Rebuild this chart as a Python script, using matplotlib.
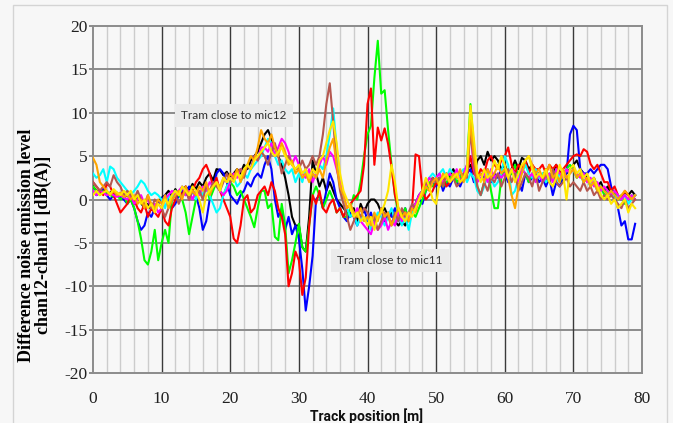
import numpy as np
import matplotlib
matplotlib.use("Agg")
import matplotlib.pyplot as plt
from matplotlib.patches import Rectangle

plt.rcParams["axes.unicode_minus"] = False

# ---------------- data ----------------
track_pos = np.arange(0, 79.5, 0.5)  # sample positions [m]

black = [1.5, 1.0, 0.8, 1.2, 0.5, 0.8, 1.0, 0.6, 0.4, 0.2,
         0.5, 0.0, -0.5, 0.3, -0.4, -1.0, -0.5, -1.2, -0.8, -0.3,
         0.2, 0.5, 1.0, 0.4, 1.2, 0.5, 0.8, 1.5, 1.0, 1.8,
         1.2, 2.0, 1.5, 2.5, 3.0, 2.2, 3.5, 3.4, 2.8, 3.2,
         2.5, 3.0, 3.5, 3.0, 4.0, 3.5, 4.5, 5.0, 5.5, 6.5,
         7.5, 8.0, 7.0, 6.0, 5.0, 4.0, 2.5, 0.5, -2.0, -3.0,
         -3.0, -5.5, -6.0, -2.0, 4.5, 3.0, 1.5, 2.5, 1.0, 2.0,
         1.0, 0.0, -0.5, -1.0, -1.5, -2.0, -1.0, -2.5, -0.5, -1.5,
         -0.5, 0.0, 0.0, -0.5, -1.5, -1.0, -2.0, -1.5, -2.5, -3.0,
         -2.5, -3.0, -2.0, -1.5, -0.5, 0.5, 1.0, 2.0, 1.5, 2.5,
         2.0, 2.5, 2.0, 3.0, 2.5, 3.5, 2.5, 3.0, 2.5, 3.5,
         4.0, 3.0, 4.5, 5.0, 4.0, 5.5, 4.5, 5.0, 4.5, 3.5,
         4.0, 3.0, 3.5, 4.5, 3.5, 4.8, 4.5, 3.5, 4.0, 3.0,
         3.0, 2.5, 3.5, 2.0, 3.0, 4.0, 3.0, 2.5, 3.0, 3.5,
         4.0, 4.5, 3.5, 3.0, 2.5, 2.0, 2.5, 1.5, 2.0, 1.0,
         1.5, 0.5, 1.0, 0.5, 0.0, 0.8, 0.5, 1.0, 0.5]

red = [2.0, 1.5, 1.0, 0.5, 1.8, 1.5, 0.5, -0.5, -1.5, -1.0,
       -0.5, 0.5, 0.0, -1.0, -1.5, -0.5, -2.0, -1.0, -1.5, -2.0,
       -1.0, -2.5, -3.0, -1.0, 0.0, 1.0, 0.5, 1.5, 0.0, 1.0,
       2.0, 2.5, 3.5, 4.0, 3.0, 1.5, 2.5, 1.0, 0.0, -1.0,
       -2.0, -4.5, -5.0, -3.0, 0.0, 0.5, -1.5, -1.0, 0.5, 1.0,
       1.5, 0.5, 2.0, 1.0, -1.0, -2.0, -4.0, -10.0, -8.5, -6.0,
       -7.0, -11.0, -9.0, -3.0, 0.5, -0.5, 1.0, -1.0, -1.5, -0.5,
       0.0, -1.5, -1.0, -2.0, -1.0, -0.5, 0.0, 0.5, 1.0, 4.0,
       11.0, 12.8, 4.0, 8.3, 6.8, 8.2, 6.4, 3.7, 0.5, -1.0,
       -2.0, -1.5, -2.5, -1.0, 5.2, 5.0, 1.0, 0.0, 0.5, 1.0,
       2.0, 1.5, 2.5, 1.5, 2.0, 2.5, 3.0, 2.0, 2.5, 3.0,
       5.0, 3.0, 2.5, 3.5, 3.0, 4.5, 5.0, 4.0, 3.5, 4.5,
       5.0, 6.0, 4.0, 3.0, 4.0, 3.5, 4.5, 3.0, 4.0, 3.5,
       3.5, 4.0, 3.0, 4.0, 3.5, 4.0, 3.0, 3.5, 4.0, 4.5,
       5.0, 5.2, 5.0, 5.8, 5.5, 4.1, 3.5, 4.0, 3.0, 2.0,
       2.0, 1.0, 1.5, 0.5, 0.0, 1.0, 0.5, 0.0, 0.5]

blue = [1.0, 0.5, 0.8, 1.2, 0.5, 0.0, 0.5, 0.8, 0.3, 0.0,
        -0.5, 0.0, -1.0, -2.5, -3.5, -3.0, -1.5, -2.0, -1.0, -0.5,
        0.0, 0.5, 0.0, -1.0, -0.5, 0.5, 1.0, 0.5, 1.5, 1.0,
        0.5, -1.0, -3.5, -2.5, 0.0, 1.5, 3.0, 3.5, 3.0, 2.0,
        0.5, 0.0, -0.5, 0.5, 1.0, 2.0, 1.5, 2.5, 3.0, 2.5,
        4.0, 5.0, 3.5, 0.0, -2.0, -1.0, -3.5, -2.0, -4.0, -3.0,
        -4.5, -8.0, -12.8, -10.0, -6.5, 0.0, 0.5, -1.0, 1.0, 3.0,
        2.0, 0.0, -1.0, -2.0, -2.5, -1.5, -2.0, -3.0, -2.0, -1.0,
        -2.5, -1.5, -3.0, -2.0, -1.0, -2.5, -1.5, -2.0, -1.0, -2.5,
        -2.0, -1.0, -2.5, -1.5, -1.0, 0.0, -0.5, 1.0, 1.5, 2.0,
        1.5, 2.5, 1.0, 2.0, 1.5, 2.5, 2.0, 1.5, 2.5, 3.0,
        3.5, 2.0, 2.5, 3.0, 2.5, 3.5, 2.0, 3.0, 2.5, 3.5,
        3.0, 2.0, 3.5, 2.5, 2.0, 1.0, 3.0, 2.0, 2.5, 3.0,
        2.0, 2.5, 1.5, 2.5, 0.5, 2.0, 1.5, 2.5, 3.0, 7.5,
        8.5, 8.0, 3.5, 3.0, 3.0, 3.5, 3.0, 3.5, 4.0, 4.0,
        3.5, 1.5, 0.5, -1.0, -3.0, -2.5, -4.6, -4.6, -2.8]

green = [1.5, 1.0, 0.5, 1.0, 0.8, 0.5, 0.3, 0.5, 0.0, 0.5,
         -0.5, 0.0, -1.0, -2.5, -4.5, -7.0, -7.5, -6.0, -3.5, -7.0,
         -5.0, -3.5, -5.0, 0.0, 1.0, 0.5, 0.0, -1.5, -4.0, -2.0,
         0.0, 1.0, 0.5, 1.5, 0.0, 1.0, 2.0, 1.0, 0.5, 1.5,
         2.0, 1.5, 0.5, 1.0, 0.0, -1.0, -2.0, -3.2, -1.0, 1.0,
         1.0, -1.0, -0.5, -4.3, -4.7, -0.5, -3.0, -8.5, -7.0, -5.0,
         -2.8, -5.5, -6.0, -3.0, 0.5, 1.5, 0.5, -1.0, 0.0, 1.0,
         0.0, -1.5, -1.0, -2.0, -2.0, -1.0, 0.5, 0.0, 2.0, 5.0,
         7.5, 8.5, 14.0, 18.3, 12.2, 12.6, 8.0, 4.0, 0.5, -1.5,
         -2.0, -1.0, -2.5, -1.5, -2.0, -1.0, 0.0, 1.0, 2.0, 1.5,
         2.0, 2.5, 1.5, 2.0, 2.5, 3.0, 2.0, 2.5, 3.0, 4.0,
         11.0, 6.0, 1.5, 0.5, 2.0, 3.0, 1.0, -1.0, -1.0, 2.5,
         3.5, 2.5, 3.0, 4.0, 2.5, 3.5, 3.0, 2.0, 3.0, 3.5,
         2.5, 3.0, 2.0, 3.0, 2.5, 3.5, 2.0, 3.0, 3.5, 4.0,
         3.5, 2.5, 3.0, 2.0, 2.5, 1.5, 2.0, 1.0, 1.5, 0.5,
         1.0, 0.5, 1.0, 0.0, 0.5, -0.5, 0.0, 0.5, 0.0]

cyan = [3.0, 2.5, 2.8, 3.5, 2.0, 3.8, 3.5, 2.5, 2.0, 1.5,
        1.0, 0.5, 1.0, 1.5, 2.2, 1.8, 1.0, 0.5, 0.8, 0.5,
        0.0, -1.0, 0.5, 0.0, 1.0, 0.5, 1.5, 1.0, 0.5, 1.0,
        0.0, 1.0, 0.5, 1.5, 0.5, -0.5, -1.5, -1.0, 0.5, 1.5,
        2.0, 2.5, 1.5, 2.0, 3.0, 2.5, 3.5, 4.0, 4.5, 5.0,
        6.0, 7.0, 6.5, 5.0, 4.0, 4.5, 3.5, 3.0, 3.5, 2.0,
        3.0, 2.0, 3.5, 2.5, 3.0, 2.5, 4.0, 3.5, 5.0, 7.5,
        10.5, 6.0, 2.0, 0.0, -1.0, -2.0, -1.5, -3.0, -2.0, -2.5,
        -2.0, -3.5, -2.5, -1.5, -2.0, -3.0, -2.0, -1.0, -2.5, -1.5,
        -3.0, -2.0, -3.5, -1.5, -1.0, 0.0, 1.0, 2.0, 2.5, 3.0,
        2.5, 3.0, 3.5, 2.5, 3.5, 3.0, 2.5, 3.0, 3.5, 2.0,
        3.0, 2.5, 1.0, 0.5, 1.5, 3.0, 2.5, 1.5, 2.0, 3.0,
        5.0, 4.0, 0.5, 1.0, 2.5, 3.0, 4.0, 3.0, 2.5, 3.5,
        2.5, 3.0, 2.0, 2.5, 3.0, 2.0, 3.0, 2.5, 3.5, 3.0,
        3.5, 2.5, 3.0, 2.0, 2.5, 1.5, 2.0, 1.0, 1.5, 1.0,
        0.5, 1.0, 0.0, 0.5, 0.0, 0.5, -0.5, 0.0, 0.5]

magenta = [1.0, 0.5, 1.0, 0.8, 0.5, 0.7, 0.5, 0.3, 0.5, 0.2,
           0.0, 0.5, -0.5, 0.0, 0.5, -0.5, 0.0, -1.0, -0.5, -1.5,
           -1.0, 0.0, 0.5, 1.0, 0.5, 1.0, 1.5, 0.5, 1.0, 0.0,
           1.0, 0.5, 1.5, 1.0, 2.0, 1.5, 2.0, 1.0, 0.5, 1.0,
           2.0, 3.0, 2.5, 3.5, 3.0, 4.0, 3.5, 5.0, 4.5, 6.0,
           6.0, 5.5, 6.5, 5.0, 6.0, 7.0, 6.5, 5.5, 4.0, 5.0,
           4.0, 3.0, 2.5, 3.5, 2.0, 3.0, 4.0, 5.0, 4.0, 5.5,
           5.0, 3.5, 2.0, 0.5, -1.0, -0.5, -2.0, -1.0, -2.5, -3.0,
           -3.5, -4.0, -2.5, -3.5, -3.0, -2.0, -3.5, -2.5, -3.0, -1.5,
           -2.5, -1.5, -2.0, -1.0, -0.5, 0.5, 1.0, 1.5, 2.5, 2.0,
           2.5, 3.0, 2.0, 2.5, 3.0, 2.5, 3.5, 2.0, 3.0, 4.0,
           8.0, 3.5, 2.0, 2.5, 3.0, 2.0, 3.5, 2.5, 3.0, 2.5,
           3.0, 2.5, 3.5, 3.0, 2.0, 3.5, 3.0, 2.5, 3.0, 2.0,
           3.0, 2.0, 2.5, 3.0, 2.0, 3.5, 3.0, 2.5, 3.5, 3.0,
           3.5, 3.0, 2.5, 3.0, 2.0, 2.5, 1.5, 2.0, 1.0, 1.5,
           1.0, 0.5, 1.0, 0.5, 0.0, 0.5, 0.0, 0.5, 0.0]

brown = [2.0, 1.5, 1.0, 1.5, 2.0, 1.5, 2.8, 2.0, 1.5, 0.5,
         1.0, 0.5, 0.0, 1.0, 0.0, -0.5, 0.5, -1.0, 0.0, -0.5,
         -1.0, -2.0, -1.0, 0.0, 0.5, -0.5, 0.5, 1.0, 0.0, 1.0,
         0.5, 1.0, 0.0, 1.5, 1.0, 2.0, 1.5, 1.0, 2.0, 3.0,
         2.0, 2.5, 3.0, 3.5, 2.5, 4.0, 3.5, 5.0, 4.5, 5.5,
         5.0, 4.0, 5.5, 6.5, 5.0, 3.0, 4.0, 5.0, 4.0, 3.5,
         3.5, 4.5, 3.5, 4.0, 5.0, 4.0, 5.0, 7.5, 11.0, 13.4,
         9.0, 4.0, 1.0, -0.5, -2.0, -3.5, -2.5, -1.5, -2.0, -1.0,
         -1.5, -2.5, -2.0, -3.5, -2.5, -1.5, -2.0, -3.0, -1.5, -2.5,
         -1.0, -2.0, -1.5, -0.5, -1.0, 0.0, 1.0, 2.0, 1.5, 2.5,
         2.0, 2.5, 1.5, 3.0, 2.0, 2.5, 1.5, 2.0, 3.0, 2.5,
         8.0, 4.0, 1.5, 0.5, 2.0, 1.0, 2.5, 2.0, 3.0, 1.5,
         2.5, 3.5, 2.0, 3.0, 1.0, 2.0, 3.0, 2.5, 1.5, 3.0,
         1.0, 2.0, 3.0, 2.0, 3.5, 2.0, 1.5, 2.0, 2.5, 1.5,
         2.0, 1.5, 1.0, 2.0, 1.0, 1.5, 0.5, 1.0, 0.0, 0.5,
         0.0, 0.5, 0.0, -0.5, -1.0, 0.0, -1.0, -0.5, 0.0]

orange = [4.8, 4.0, 2.0, 1.5, 1.0, 0.5, 1.0, 0.5, 0.8, 0.3,
          0.5, 0.0, 0.5, -0.5, 0.0, -1.0, 0.5, -0.5, -1.0, 0.0,
          -0.5, 0.5, -1.0, 0.0, 0.5, 1.0, 0.0, 1.5, 0.5, 1.0,
          0.5, 1.5, 1.0, 2.0, 0.5, 1.5, 2.0, 1.5, 2.5, 2.0,
          3.0, 2.5, 3.5, 2.0, 3.0, 4.0, 5.0, 4.5, 6.0, 8.0,
          7.0, 6.5, 7.5, 6.0, 5.0, 6.5, 5.5, 4.0, 4.5, 3.0,
          3.5, 2.5, 3.0, 2.0, 3.0, 2.5, 3.5, 2.5, 4.5, 6.0,
          7.0, 4.0, 1.5, 0.5, -1.0, -0.5, -1.5, -2.0, -1.0, -2.5,
          -2.0, -3.0, -1.5, -2.5, -1.0, -2.0, -1.5, -3.0, -2.0, -1.0,
          -2.0, -1.5, -2.5, -1.0, -1.5, 0.0, 0.5, 1.5, 1.0, 2.0,
          2.5, 1.5, 3.0, 2.5, 2.0, 3.0, 2.5, 3.5, 2.0, 3.0,
          9.0, 5.0, 2.5, 3.0, 2.0, 3.5, 2.5, 3.0, 4.0, 3.0,
          3.5, 2.5, 0.5, -1.0, 1.5, 3.0, 4.5, 5.0, 4.0, 3.0,
          3.5, 2.5, 3.0, 4.0, 2.5, 3.0, 2.0, 3.5, 2.5, 3.0,
          3.5, 2.5, 3.0, 2.0, 2.5, 1.5, 2.0, 1.0, 1.5, 1.0,
          0.5, 1.0, 0.5, 0.0, 0.5, 1.0, 0.5, 0.0, 0.5]

yellow = [0.5, 1.0, 0.5, 0.8, 1.0, 0.6, 1.2, 0.8, 0.5, 1.0,
          0.5, 1.0, 0.0, 0.5, -0.5, 0.0, -1.0, -0.5, -1.5, -0.5,
          -1.0, 0.0, -0.5, 0.5, 1.0, 0.5, 1.5, 1.0, 0.5, 1.5,
          1.0, 0.0, -1.5, 0.5, 1.0, 1.5, 2.0, 1.0, 2.5, 2.0,
          2.5, 2.0, 3.0, 2.5, 3.5, 4.0, 3.5, 4.5, 5.0, 5.5,
          6.0, 6.5, 5.5, 5.0, 5.5, 6.0, 5.0, 4.5, 4.0, 3.5,
          4.0, 3.0, 3.5, 2.5, 3.5, 3.0, 4.5, 5.0, 6.5, 8.0,
          9.0, 6.5, 3.0, 1.0, 0.0, -1.0, -2.0, -1.5, -2.5, -2.0,
          -3.0, -2.0, -3.5, -2.0, -1.5, -0.5, 1.0, 4.0, 2.0, -1.0,
          -2.0, -2.5, -1.5, -2.0, -1.0, 0.0, 1.0, 2.5, 1.5, 0.0,
          -0.5, 2.0, 2.5, 3.0, 2.0, 2.5, 3.0, 2.0, 2.5, 3.5,
          10.8, 7.0, 3.0, 2.0, 3.5, 2.5, 3.0, 4.5, 3.5, 5.0,
          4.0, 2.5, 3.5, 2.0, 3.0, 4.0, 4.5, 5.0, 3.5, 2.5,
          3.0, 2.5, 3.5, 2.0, 1.5, 2.5, 4.0, 3.0, 0.0, 3.5,
          4.0, 3.0, 3.5, 2.5, 3.0, 2.0, 2.5, 1.5, 0.5, 0.0,
          0.5, -0.5, 0.0, -1.0, -0.5, 0.0, -1.5, -0.5, -1.0]

series = [
    (black, "#000000"),
    (blue, "#0000ff"),
    (green, "#00ff00"),
    (red, "#ff0000"),
    (cyan, "#00ffff"),
    (magenta, "#ff00ff"),
    (brown, "#b5574f"),
    (orange, "#ffa500"),
    (yellow, "#ffe600"),
]

x_ticks = [0, 10, 20, 30, 40, 50, 60, 70, 80]
y_ticks = [-20, -15, -10, -5, 0, 5, 10, 15, 20]

# ---------------- figure ----------------
W, H = 673, 423
fig = plt.figure(figsize=(W / 100, H / 100), dpi=100)
bg = "#f7f7f7"
fig.patch.set_facecolor(bg)
fig.patches.append(Rectangle((13 / W, -5 / H), 654 / W, 423 / H,
                             transform=fig.transFigure, fill=False,
                             edgecolor="#d4d4d4", linewidth=1.0))

ax = fig.add_axes([93 / W, 1 - 373 / H, 549 / W, 347 / H])
ax.set_facecolor(bg)
ax.set_xlim(0, 80)
ax.set_ylim(-20, 20)

# grid
for xv in np.arange(2, 80, 2):
    if xv % 10 == 0:
        ax.axvline(xv, color="#3a3a3a", lw=1.0, zorder=1)
    else:
        ax.axvline(xv, color="#cccccc", lw=1.0, zorder=0.5)
for yv in y_ticks[1:-1]:
    ax.axhline(yv, color="#8c8c8c", lw=1.4, zorder=0.8)

for vals, col in series:
    n = min(len(vals), len(track_pos))
    ax.plot(track_pos[:n], vals[:n], color=col, lw=1.5, zorder=3,
            solid_joinstyle="round")

for side in ["left", "right", "top", "bottom"]:
    ax.spines[side].set_color("#8c8c8c")
    ax.spines[side].set_linewidth(1.4)

ax.set_xticks(x_ticks)
ax.set_yticks(y_ticks)
ax.tick_params(axis="x", length=0, pad=13)
ax.tick_params(axis="y", length=3, width=1.4, color="#8c8c8c", pad=1)
for lab in ax.get_xticklabels() + ax.get_yticklabels():
    lab.set_fontfamily("Liberation Serif")
    lab.set_fontsize(12.5)
    lab.set_color("#202020")

fig.text(367 / W, 1 - 416 / H, "Track position [m]", ha="center", va="center",
         fontsize=10, fontweight="bold", family="Roboto", color="#101010")

fig.text(35 / W, 1 - 245 / H,
         "Difference noise emission level\nchan12-chan11 [dB(A)]",
         rotation=90, ha="center", va="center", ma="center",
         fontsize=13, fontweight="bold", family="Liberation Serif",
         linespacing=0.95)

box = dict(facecolor="#ebebeb", edgecolor="none", boxstyle="square,pad=0.5")
ax.text(20.55, 9.7, "Tram close to mic12", ha="center", va="center",
        fontsize=8.5, family="Lato", color="#303030", bbox=box, zorder=2)
ax.text(43.3, -7.0, "Tram close to mic11", ha="center", va="center",
        fontsize=8.5, family="Lato", color="#303030", bbox=box, zorder=2)

fig.savefig("out.png", dpi=100, facecolor=fig.get_facecolor())
